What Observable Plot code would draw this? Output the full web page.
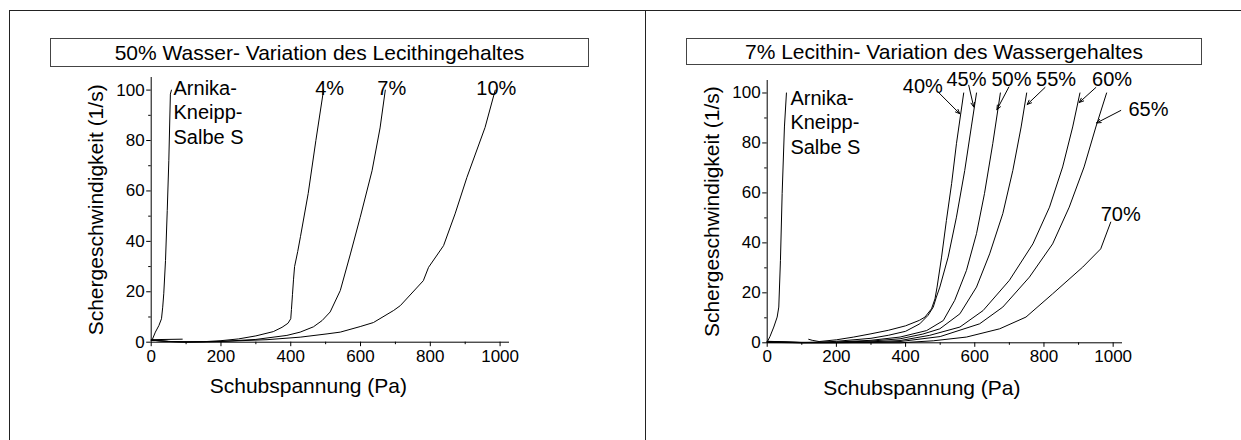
<!DOCTYPE html>
<html><head><meta charset="utf-8">
<script src="https://cdn.jsdelivr.net/npm/d3@7"></script>
<script src="https://cdn.jsdelivr.net/npm/@observablehq/plot@0.6"></script>
<style>
body{margin:0;background:#fff;font-family:"Liberation Sans",Arial,sans-serif;}
#wrap{position:relative;width:1241px;height:440px;overflow:hidden;background:#fff;}
.panel{position:absolute;top:0;}
.ln{position:absolute;background:#222;}
.tbox{position:absolute;border:1px solid #444;box-sizing:border-box;text-align:center;font-size:21px;color:#000;display:flex;align-items:center;justify-content:center;white-space:nowrap;}
</style></head><body>
<div id="wrap">
  <div id="left" class="panel" style="left:0"></div>
  <div id="right" class="panel" style="left:620px"></div>
  <div class="ln" style="left:9px;top:10px;width:1232px;height:1px"></div>
  <div class="ln" style="left:9px;top:10px;width:1px;height:430px"></div>
  <div class="ln" style="left:645px;top:10px;width:1px;height:430px"></div>
  <div class="tbox" id="t1" style="left:50px;top:38px;width:539px;height:29px"></div>
  <div class="tbox" id="t2" style="left:686px;top:38px;width:516px;height:27px"></div>
</div>
<script>
// ---------- texts ----------
const titleLeft = "50% Wasser- Variation des Lecithingehaltes";
const titleRight = "7% Lecithin- Variation des Wassergehaltes";
const xTitle = "Schubspannung (Pa)";
const yTitle = "Schergeschwindigkeit (1/s)";

// ---------- ticks ----------
const xMajor = [0, 200, 400, 600, 800, 1000];
const xMinor = [100, 300, 500, 700, 900];
const yMajor = [0, 20, 40, 60, 80, 100];
const yMinor = [10, 30, 50, 70, 90];

// ---------- left panel: 50% Wasser ----------
const arnikaL_x = [89, 0, 3, 12, 22, 29.5, 33, 36, 41, 46, 50.5, 55, 58];
const arnikaL_y = [1.2, 1.0, 1.0, 4, 6.6, 9.3, 13.9, 19.2, 32.4, 52.2, 72, 98.4, 100];
const lec4_x = [0, 50, 100, 150, 200, 250, 300, 350, 375, 392, 400, 402, 405, 408, 411, 420, 428, 450, 472, 494];
const lec4_y = [0.8, 0.3, 0.1, 0.2, 0.6, 1.3, 2.5, 4.2, 5.9, 7.5, 9.3, 13, 19, 25, 30, 36, 42, 59, 80, 100];
const lec7_x = [0, 50, 100, 200, 300, 389, 427, 465, 490, 513, 542, 571, 599, 633, 656, 671];
const lec7_y = [0.8, 0.3, 0.1, 0.3, 1.1, 2.7, 4, 6.1, 8.6, 12, 20.5, 35, 49.5, 68, 85, 100];
const lec10_x = [0, 50, 100, 200, 332, 427, 504, 542, 599, 637, 695, 714, 780, 795, 838, 871, 905, 957, 986];
const lec10_y = [0.8, 0.3, 0.1, 0.3, 1, 2, 3.3, 4, 6.2, 7.8, 12.6, 14.5, 24.4, 29.7, 38.3, 50.9, 65.4, 85.2, 100];

const leftLabels = ["Arnika-\nKneipp-\nSalbe S", "4%", "7%", "10%"];
const leftLabel_x = [64, 470, 648, 932];
const leftLabel_y = [105, 105, 105, 105];

// ---------- right panel: 7% Lecithin ----------
const arnikaR_x = [0, 8, 19, 28.8, 33.5, 38.3, 43.2, 49.8, 55.6];
const arnikaR_y = [0.3, 2.5, 6.3, 10.3, 14.3, 33, 59.7, 86.4, 100];
const w40_x = [120, 130, 150, 200, 250, 300, 350, 400, 440, 456, 475, 485, 491, 504, 518, 533, 547, 568];
const w40_y = [1.4, 1.0, 0.5, 1.2, 2.3, 3.6, 5, 6.8, 9, 10.3, 13.6, 17.6, 22.3, 34.3, 49, 63.7, 79.7, 100];
const w45_x = [0, 100, 150, 200, 300, 350, 400, 441, 465, 480, 489, 499, 523, 547, 571, 590, 605];
const w45_y = [0.6, 0.2, 0.2, 0.6, 1.8, 3, 4.6, 7.6, 11, 14.3, 18.3, 22.3, 34.3, 50.3, 69, 86.4, 100];
const w50_x = [0, 100, 200, 300, 384, 461, 509, 542, 576, 605, 628, 652, 674];
const w50_y = [0.5, 0.1, 0.3, 1, 2.3, 4.9, 8.9, 17, 29, 43.7, 59.7, 79.7, 100];
const w55_x = [0, 100, 200, 300, 384, 450, 499, 557, 605, 643, 681, 710, 734, 750];
const w55_y = [0.4, 0.1, 0.2, 0.7, 1.6, 3.5, 5.6, 11.6, 22.3, 35.6, 51.7, 69, 86.4, 100];
const w60_x = [0, 100, 200, 300, 384, 470, 557, 624, 700, 768, 816, 854, 883, 904];
const w60_y = [0.3, 0.05, 0.1, 0.4, 0.9, 3, 6.3, 12.9, 25, 39.6, 54.3, 70.4, 86.4, 100];
const w65_x = [0, 100, 200, 300, 384, 500, 614, 681, 758, 825, 873, 916, 950, 981];
const w65_y = [0.2, 0, 0.05, 0.2, 0.5, 2.5, 7.6, 14.3, 26.3, 39.6, 54.3, 70.4, 86.4, 100];
const w70_x = [0, 200, 384, 480, 576, 672, 748, 825, 912, 964, 993];
const w70_y = [0.1, 0, 0, 0.8, 2.3, 5.6, 10.3, 19.6, 30.3, 37.6, 48.3];

const rightLabels = ["Arnika-\nKneipp-\nSalbe S", "40%", "45%", "50%", "55%", "60%", "65%", "70%"];
const rightLabel_x = [67, 392, 518, 648, 777, 939, 1044, 964];
const rightLabel_y = [102.2, 107.1, 109.8, 109.8, 109.8, 109.8, 97.8, 55.7];

const arrow_x1 = [494, 582.5, 698.6, 803, 950, 1022];
const arrow_y1 = [100.4, 103.1, 102.4, 102.2, 102.2, 93];
const arrow_x2 = [556.6, 597, 664, 751.5, 902, 952];
const arrow_y2 = [91.7, 94.4, 93.3, 95.4, 96.2, 88];

// ---------- build ----------
function rows(name, xs, ys) { return xs.map((x, i) => ({series: name, x, y: ys[i]})); }
const leftData = [
  ...rows("Arnika", arnikaL_x, arnikaL_y), ...rows("4%", lec4_x, lec4_y),
  ...rows("7%", lec7_x, lec7_y), ...rows("10%", lec10_x, lec10_y)];
const rightData = [
  ...rows("Arnika", arnikaR_x, arnikaR_y), ...rows("40%", w40_x, w40_y), ...rows("45%", w45_x, w45_y),
  ...rows("50%", w50_x, w50_y), ...rows("55%", w55_x, w55_y), ...rows("60%", w60_x, w60_y),
  ...rows("65%", w65_x, w65_y), ...rows("70%", w70_x, w70_y)];
const leftLab = leftLabels.map((t, i) => ({t, x: leftLabel_x[i], y: leftLabel_y[i]}));
const rightLab = rightLabels.map((t, i) => ({t, x: rightLabel_x[i], y: rightLabel_y[i]}));
const arrows = arrow_x1.map((x1, i) => ({x1, y1: arrow_y1[i], x2: arrow_x2[i], y2: arrow_y2[i]}));

const FONT = "'Liberation Sans', Arial, sans-serif";

function panel(data, labels, arrowData, m, xdx, xdy) {
  return Plot.plot({
    width: 620, height: 440,
    marginLeft: m.l, marginRight: m.r, marginTop: m.t, marginBottom: m.b,
    x: {domain: [0, 1027]},
    y: {domain: [0, 105]},
    style: {fontFamily: FONT, fontSize: "17px", color: "#000", background: "transparent", overflow: "visible"},
    marks: [
      Plot.ruleY([0], {stroke: "#000", strokeWidth: 1}),
      Plot.ruleX([0], {stroke: "#000", strokeWidth: 1}),
      Plot.axisX(xMajor, {tickSize: 4.5, tickPadding: 3, tickFormat: "d", label: null, fontSize: 17}),
      Plot.axisX(xMinor, {tickSize: 2.5, tickFormat: () => "", label: null}),
      Plot.axisY(yMajor, {tickSize: 4.5, tickPadding: 2, tickFormat: "d", label: null, fontSize: 17}),
      Plot.axisY(yMinor, {tickSize: 2.5, tickFormat: () => "", label: null}),
      Plot.line(data, {x: "x", y: "y", z: "series", stroke: "#000", strokeWidth: 1, curve: "linear"}),
      Plot.text(labels, {x: "x", y: "y", text: "t", textAnchor: "start", lineAnchor: "top", fontSize: 20, lineHeight: 1.22, fill: "#000"}),
      Plot.arrow(arrowData, {x1: "x1", y1: "y1", x2: "x2", y2: "y2", stroke: "#000", strokeWidth: 1, headLength: 7, headAngle: 45}),
      Plot.text([xTitle], {frameAnchor: "bottom", lineAnchor: "top", dx: xdx, dy: xdy, fontSize: 21, fill: "#000"}),
      Plot.text([yTitle], {frameAnchor: "left", textAnchor: "middle", lineAnchor: "middle", rotate: -90, dx: -55, fontSize: 21, fill: "#000"})
    ]
  });
}

document.getElementById("left").appendChild(
  panel(leftData, leftLab, [], {l: 150.7, r: 111, t: 77, b: 98.3}, -22, 36.3));
document.getElementById("right").appendChild(
  panel(rightData, rightLab, arrows, {l: 146.7, r: 118, t: 80, b: 97.7}, -23, 37.7));
document.getElementById("t1").textContent = titleLeft;
document.getElementById("t2").textContent = titleRight;
</script>
</body></html>
